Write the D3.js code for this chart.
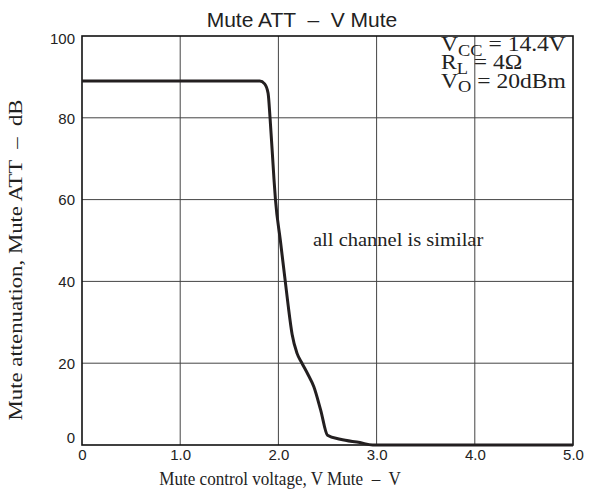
<!DOCTYPE html>
<html><head><meta charset="utf-8">
<script src="https://cdn.jsdelivr.net/npm/d3@7"></script>
<style>body{margin:0;background:#fff}svg{display:block}text{white-space:pre}</style>
</head><body>
<script>
const voltage = [0, 1.0, 1.81, 1.86, 1.895, 1.915, 1.955, 1.97, 2.02, 2.07, 2.10, 2.14, 2.19, 2.24, 2.30, 2.36, 2.43, 2.50, 2.63, 2.83, 2.96, 4.0, 5.0];
const attenuation = [89, 89, 89, 88.3, 86, 80, 65, 60, 50, 40, 34, 27, 22.4, 20, 17.3, 14.3, 8.6, 2.4, 1.4, 0.6, 0, 0, 0];
const xTicks = [0, 1, 2, 3, 4, 5];
const xTickLabels = ["0", "1.0", "2.0", "3.0", "4.0", "5.0"];
const yTicks = [0, 20, 40, 60, 80, 100];
const conditions = [["V", "CC", " = 14.4V"], ["R", "L", " = 4Ω"], ["V", "O", " = 20dBm"]];
const title = "Mute ATT  –  V Mute";
const xTitle = "Mute control voltage, V Mute  –  V";
const yTitle = "Mute attenuation, Mute ATT  –  dB";
const note = "all channel is similar";

const W = 589, H = 493;
const m = {l: 82, r: 573, t: 36, b: 445};
const svg = d3.select("body").append("svg").attr("width", W).attr("height", H);
const x = d3.scaleLinear().domain([0, 5]).range([m.l, m.r]);
const y = d3.scaleLinear().domain([0, 100]).range([m.b, m.t]);
const sans = "'Liberation Sans', Arial, sans-serif";
const serif = "'Liberation Serif', 'Times New Roman', serif";

// grid
svg.append("g").selectAll("line").data(xTicks.slice(1, -1)).join("line")
  .attr("x1", d => x(d)).attr("x2", d => x(d)).attr("y1", m.t).attr("y2", m.b)
  .attr("stroke", "#444").attr("stroke-width", 1);
svg.append("g").selectAll("line").data(yTicks.slice(1, -1)).join("line")
  .attr("y1", d => y(d)).attr("y2", d => y(d)).attr("x1", m.l).attr("x2", m.r)
  .attr("stroke", "#444").attr("stroke-width", 1);

// axes (labels only)
const xAxis = d3.axisBottom(x).tickValues(xTicks).tickFormat((d, i) => xTickLabels[i]).tickSize(0).tickPadding(4);
const gx = svg.append("g").attr("transform", `translate(0,${m.b})`).call(xAxis);
gx.select(".domain").remove();
gx.selectAll("text").attr("font-family", sans).attr("font-size", 15).attr("fill", "#222");
const yAxis = d3.axisLeft(y).tickValues(yTicks).tickFormat(d3.format("d")).tickSize(0).tickPadding(7);
const gy = svg.append("g").attr("transform", `translate(${m.l},0)`).call(yAxis);
gy.select(".domain").remove();
gy.selectAll("text").attr("font-family", sans).attr("font-size", 15).attr("fill", "#222")
  .attr("dy", d => d === 0 ? "-0.2em" : (d === 100 ? "0.5em" : "0.35em"));

// frame
svg.append("rect").attr("x", m.l).attr("y", m.t).attr("width", m.r - m.l).attr("height", m.b - m.t)
  .attr("fill", "none").attr("stroke", "#111").attr("stroke-width", 1.6);

// curve
const line = d3.line().x((d, i) => x(voltage[i])).y((d, i) => y(attenuation[i])).curve(d3.curveMonotoneX);
svg.append("path").datum(voltage).attr("d", line).attr("fill", "none")
  .attr("stroke", "#231f20").attr("stroke-width", 3).attr("stroke-linejoin", "round");

// title
svg.append("text").attr("x", 302).attr("y", 27).attr("text-anchor", "middle")
  .attr("font-family", sans).attr("font-size", 21).attr("fill", "#222").text(title);

// axis titles
svg.append("text").attr("transform", "translate(280,485) scale(0.9,1)").attr("text-anchor", "middle")
  .attr("font-family", serif).attr("font-size", 19).attr("fill", "#222").text(xTitle);
svg.append("text").attr("transform", "translate(22,260) rotate(-90) scale(1.2,1)").attr("text-anchor", "middle")
  .attr("font-family", serif).attr("font-size", 19).attr("fill", "#222").text(yTitle);

// conditions
conditions.forEach((c, i) => {
  const t = svg.append("text").attr("transform", `translate(441,${51 + i * 18.3}) scale(1.15,1)`)
    .attr("font-family", serif).attr("font-size", 20.5).attr("fill", "#222");
  t.append("tspan").text(c[0]);
  t.append("tspan").attr("font-size", 16).attr("dy", 4.5).text(c[1]);
  t.append("tspan").attr("dy", -4.5).text(c[2]);
});

// note
svg.append("text").attr("transform", "translate(313,246) scale(1.08,1)")
  .attr("font-family", serif).attr("font-size", 19).attr("fill", "#222").text(note);
</script>
</body></html>
